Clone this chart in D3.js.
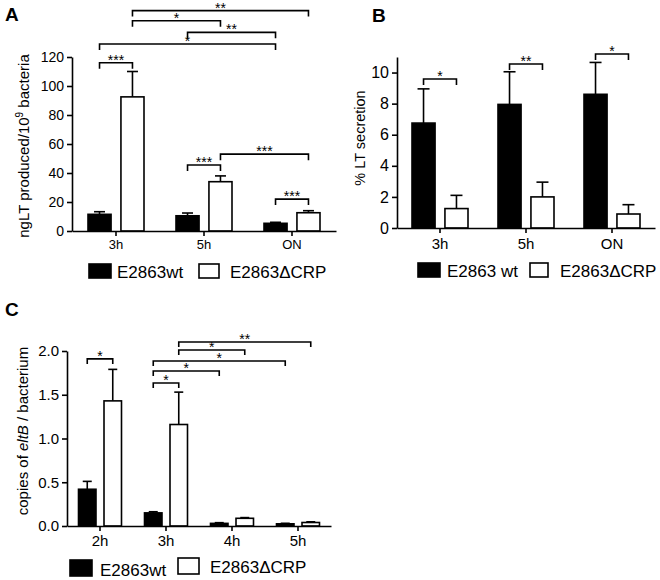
<!DOCTYPE html>
<html><head><meta charset="utf-8">
<script src="https://cdn.jsdelivr.net/npm/d3@7"></script>
<style>
body{margin:0;background:#fff}
svg{display:block}
text{font-family:Arial,"Liberation Sans",sans-serif;fill:#000}
</style>
</head><body>
<svg id="chart" width="660" height="580"></svg>
<script>
// ---------- Panel A data ----------
const groupsA = ["3h", "5h", "ON"];
const seriesA = ["E2863wt", "E2863ΔCRP"];
const wtA = [11.5, 10.5, 5.3];
const wtErrA = [1.8, 1.9, 0.7];
const crpA = [92.5, 34, 12.6];
const crpErrA = [17.5, 4, 1.4];
const ticksA = [0, 20, 40, 60, 80, 100, 120];
const sigA = [
  {a: ["3h", 0], b: ["3h", 1], level: 116, label: "***"},
  {a: ["3h", 0], b: ["ON", 0], level: 129, label: "*"},
  {a: ["5h", 0], b: ["ON", 0], level: 137, label: "**"},
  {a: ["3h", 1], b: ["5h", 1], level: 145, label: "*"},
  {a: ["3h", 1], b: ["ON", 1], level: 152, label: "**"},
  {a: ["5h", 0], b: ["5h", 1], level: 45.5, label: "***"},
  {a: ["5h", 1], b: ["ON", 1], level: 53, label: "***"},
  {a: ["ON", 0], b: ["ON", 1], level: 22, label: "***"}
];

// ---------- Panel B data ----------
const groupsB = ["3h", "5h", "ON"];
const seriesB = ["E2863 wt", "E2863ΔCRP"];
const wtB = [6.75, 7.95, 8.6];
const wtErrB = [2.2, 2.1, 2.05];
const crpB = [1.25, 2.0, 0.9];
const crpErrB = [0.85, 0.95, 0.6];
const ticksB = [0, 2, 4, 6, 8, 10];
const sigB = [
  {a: ["3h", 0], b: ["3h", 1], level: 9.58, label: "*"},
  {a: ["5h", 0], b: ["5h", 1], level: 10.55, label: "**"},
  {a: ["ON", 0], b: ["ON", 1], level: 11.19, label: "*"}
];

// ---------- Panel C data ----------
const groupsC = ["2h", "3h", "4h", "5h"];
const seriesC = ["E2863wt", "E2863ΔCRP"];
const wtC = [0.42, 0.15, 0.03, 0.025];
const wtErrC = [0.09, 0.013, 0.008, 0.006];
const crpC = [1.43, 1.16, 0.088, 0.04];
const crpErrC = [0.36, 0.37, 0.008, 0.008];
const ticksC = [0, 0.5, 1.0, 1.5, 2.0];
const sigC = [
  {a: ["2h", 0], b: ["2h", 1], level: 1.91, label: "*"},
  {a: ["3h", 0], b: ["3h", 1], level: 1.634, label: "*"},
  {a: ["3h", 0], b: ["4h", 0], level: 1.771, label: "*"},
  {a: ["3h", 0], b: ["5h", 0], level: 1.886, label: "*"},
  {a: ["3h", 1], b: ["4h", 1], level: 2.011, label: "*"},
  {a: ["3h", 1], b: ["5h", 1], level: 2.103, label: "**"}
];

const svg = d3.select("#chart");
const SW = 1.6;

function drawPanel(o) {
  const g = svg.append("g");
  const x = d3.scaleBand().domain(o.groups).range([o.x0, o.x1]);
  const xs = d3.scaleBand().domain([0, 1]).range([-o.half, o.half]).paddingInner(o.pad);
  const y = d3.scaleLinear().domain(o.yDomain).range([o.yBottom, o.yTop]);
  const bw = xs.bandwidth();
  const cx = (grp, s) => x(grp) + x.bandwidth() / 2 + xs(s) + bw / 2;

  const bars = [];
  o.groups.forEach((grp, i) => {
    o.values.forEach((vals, s) => bars.push({grp, s, v: vals[i], e: o.errs[s][i]}));
  });

  // error bars (upper only)
  const eb = g.append("g").attr("stroke", "#000").attr("stroke-width", SW).attr("fill", "none");
  bars.forEach(d => {
    const c = cx(d.grp, d.s);
    eb.append("line").attr("x1", c).attr("x2", c).attr("y1", y(d.v)).attr("y2", y(d.v + d.e));
    eb.append("line").attr("x1", c - o.cap / 2).attr("x2", c + o.cap / 2)
      .attr("y1", y(d.v + d.e)).attr("y2", y(d.v + d.e));
  });

  // bars
  g.append("g").selectAll("rect").data(bars).join("rect")
    .attr("x", d => cx(d.grp, d.s) - bw / 2)
    .attr("width", bw)
    .attr("y", d => y(d.v))
    .attr("height", d => Math.max(0, y(0) - y(d.v)))
    .attr("fill", d => d.s === 0 ? "#000" : "#fff")
    .attr("stroke", "#000").attr("stroke-width", SW);

  // y axis
  const ya = g.append("g").attr("transform", `translate(${o.x0},0)`)
    .call(d3.axisLeft(y).tickValues(o.ticks).tickFormat(o.fmt).tickSize(5).tickSizeOuter(0).tickPadding(3));
  ya.selectAll("text").style("font-size", o.yFont + "px");
  ya.selectAll("path,line").attr("stroke", "#000").attr("stroke-width", SW);

  // x axis
  const xa = g.append("g").attr("transform", `translate(0,${o.yBottom})`)
    .call(d3.axisBottom(x).tickSize(5).tickSizeOuter(0).tickPadding(o.xPad));
  xa.selectAll("text").style("font-size", o.xFont + "px");
  xa.selectAll("path,line").attr("stroke", "#000").attr("stroke-width", SW);

  // significance brackets
  const sg = g.append("g");
  o.sig.forEach(d => {
    const x1 = cx(d.a[0], d.a[1]), x2 = cx(d.b[0], d.b[1]), yy = y(d.level);
    sg.append("path")
      .attr("d", `M${x1},${yy + o.drop}V${yy}H${x2}V${yy + o.drop}`)
      .attr("fill", "none").attr("stroke", "#000").attr("stroke-width", SW);
    sg.append("text").attr("x", (x1 + x2) / 2).attr("y", yy + 2)
      .attr("text-anchor", "middle").style("font-size", "14px").text(d.label);
  });

  // y title
  const t = g.append("text")
    .attr("transform", `translate(${o.titleX},${o.titleY}) rotate(-90)`)
    .attr("text-anchor", "middle").style("font-size", o.titleFont + "px");
  o.title(t);

  // panel letter
  g.append("text").attr("x", o.letterX).attr("y", o.letterY)
    .style("font-size", "19px").style("font-weight", "bold").text(o.letter);

  // legend
  o.series.forEach((name, s) => {
    const it = o.legend[s];
    g.append("rect").attr("x", it.x).attr("y", it.y).attr("width", it.w).attr("height", it.h)
      .attr("fill", s === 0 ? "#000" : "#fff").attr("stroke", "#000").attr("stroke-width", SW);
    g.append("text").attr("x", it.tx).attr("y", it.ty).style("font-size", "17px").text(name);
  });
}

drawPanel({
  groups: groupsA, series: seriesA, values: [wtA, crpA], errs: [wtErrA, crpErrA],
  ticks: ticksA, fmt: d3.format("d"), sig: sigA, yDomain: [0, 120],
  x0: 72, x1: 336, yBottom: 231, yTop: 57, half: 28, pad: 0.3, cap: 11, drop: 6,
  yFont: 14, xFont: 13, xPad: 4,
  titleX: 29, titleY: 146, titleFont: 15,
  title: t => { t.append("tspan").text("ngLT produced/10");
                t.append("tspan").attr("dy", -6).style("font-size", "10px").text("9");
                t.append("tspan").attr("dy", 6).text(" bacteria"); },
  letter: "A", letterX: 5, letterY: 21,
  legend: [{x: 89, y: 264, w: 22, h: 14, tx: 117, ty: 278},
           {x: 199, y: 264, w: 20, h: 14, tx: 230, ty: 278}]
});

drawPanel({
  groups: groupsB, series: seriesB, values: [wtB, crpB], errs: [wtErrB, crpErrB],
  ticks: ticksB, fmt: d3.format("d"), sig: sigB, yDomain: [0, 11],
  x0: 397, x1: 655, yBottom: 228, yTop: 57, half: 28, pad: 0.3, cap: 12, drop: 6,
  yFont: 16, xFont: 15, xPad: 5,
  titleX: 365, titleY: 138, titleFont: 14.5,
  title: t => t.text("% LT secretion"),
  letter: "B", letterX: 372, letterY: 22,
  legend: [{x: 418, y: 263, w: 22, h: 14, tx: 447, ty: 277},
           {x: 530, y: 263, w: 18, h: 14, tx: 560, ty: 277}]
});

drawPanel({
  groups: groupsC, series: seriesC, values: [wtC, crpC], errs: [wtErrC, crpErrC],
  ticks: ticksC, fmt: d3.format(".1f"), sig: sigC, yDomain: [0, 2],
  x0: 67, x1: 331, yBottom: 526, yTop: 351, half: 21.5, pad: 0.314, cap: 9, drop: 5,
  yFont: 15, xFont: 15, xPad: 4,
  titleX: 28, titleY: 431, titleFont: 15,
  title: t => { t.append("tspan").text("copies of ");
                t.append("tspan").style("font-style", "italic").text("eltB");
                t.append("tspan").text(" / bacterium"); },
  letter: "C", letterX: 5, letterY: 316,
  legend: [{x: 70, y: 560, w: 22, h: 16, tx: 100, ty: 576},
           {x: 178, y: 558, w: 21, h: 16, tx: 210, ty: 573}]
});
</script>
</body></html>
